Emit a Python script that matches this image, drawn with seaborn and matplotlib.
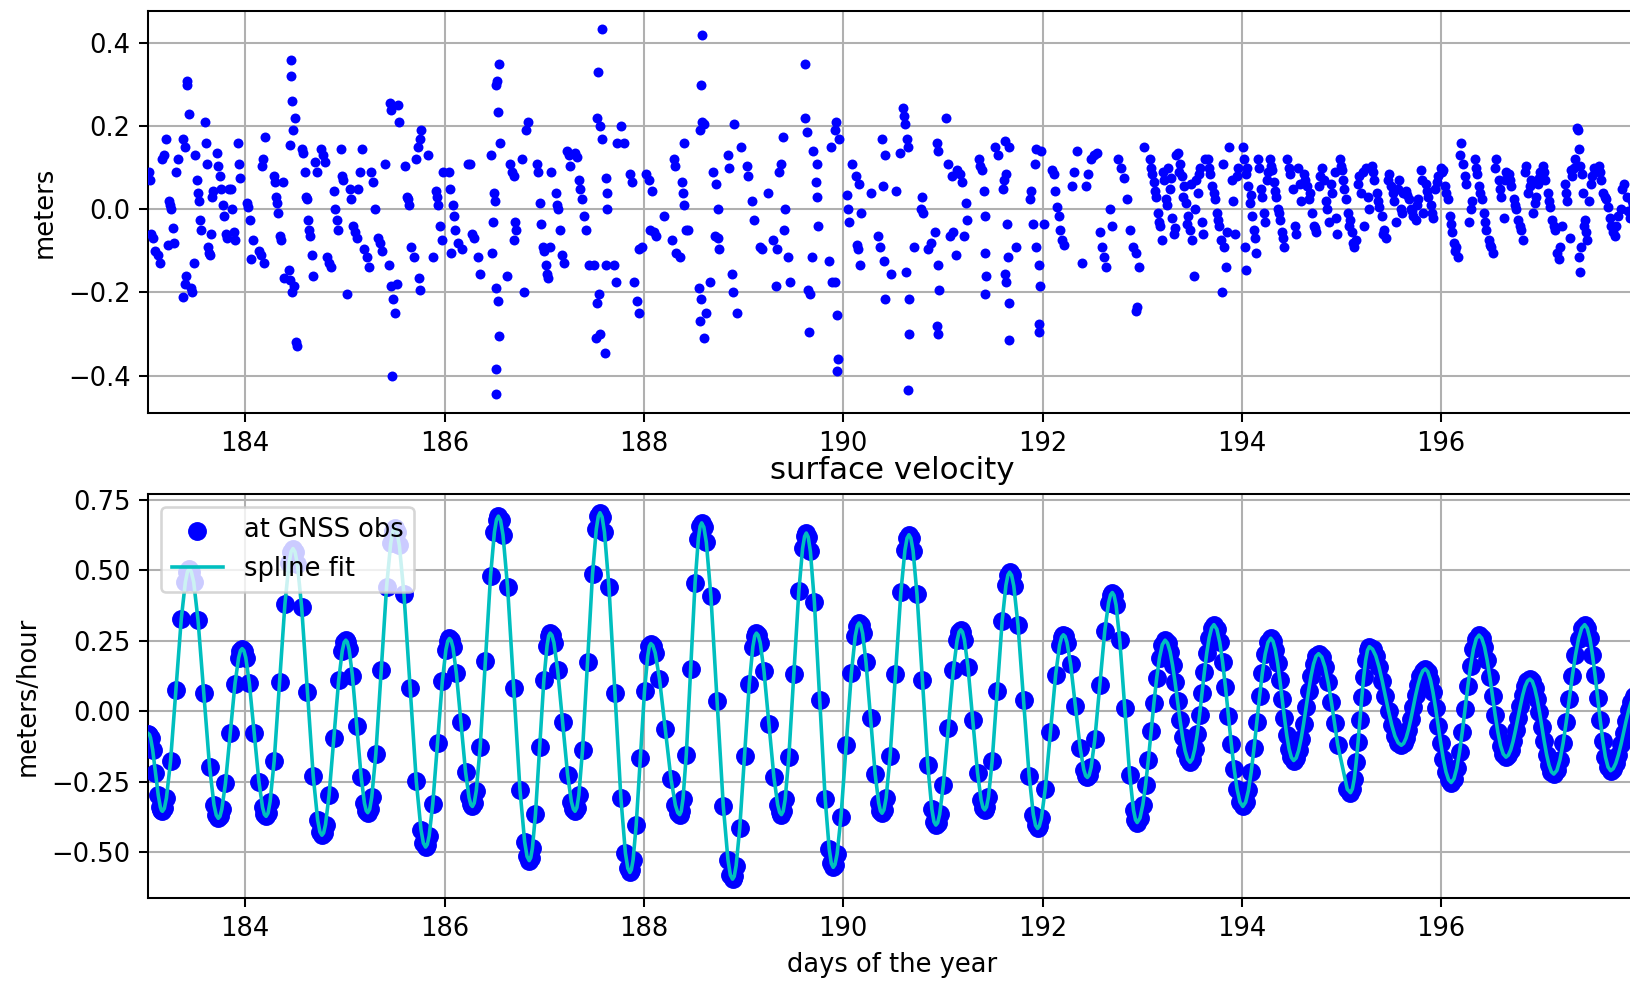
import matplotlib
matplotlib.use("Agg")
import matplotlib.pyplot as plt
import seaborn as sns

# ---------------------------------------------------------------------------
# Position residuals after removing the fitted tidal signal (meters)
# ---------------------------------------------------------------------------
resid_days = [
    183.04, 183.05, 183.06, 183.08, 183.10,
    183.13, 183.15, 183.17, 183.19, 183.21,
    183.23, 183.24, 183.25, 183.26, 183.28, 183.29, 183.31, 183.33,
    183.38, 183.40, 183.41, 183.38, 183.40, 183.42, 183.42, 183.44,
    183.46, 183.47, 183.49, 183.50, 183.52, 183.53, 183.54, 183.55, 183.56,
    183.60, 183.61, 183.62, 183.63, 183.64, 183.65, 183.66, 183.67, 183.68,
    183.72, 183.73, 183.75, 183.76, 183.78, 183.79, 183.81, 183.82, 183.84,
    183.86, 183.87, 183.89, 183.90, 183.93, 183.94, 183.95,
    184.02, 184.03, 184.05, 184.06, 184.08,
    184.20, 184.18, 184.17, 184.14, 184.16, 184.19,
    184.29, 184.30, 184.31, 184.32, 184.33, 184.35, 184.36, 184.39, 184.38,
    184.46, 184.46, 184.47, 184.48, 184.45, 184.50, 184.44, 184.45, 184.47, 184.49, 184.51, 184.52,
    184.57, 184.58, 184.60, 184.61, 184.62, 184.63, 184.64, 184.65, 184.67, 184.68, 184.70, 184.72,
    184.76, 184.78, 184.80, 184.82, 184.84, 184.86,
    184.89, 184.90, 184.92, 184.93, 184.96, 184.97, 184.98, 185.02,
    185.05, 185.06, 185.08, 185.10, 185.12, 185.13, 185.15, 185.17, 185.19,
    185.22, 185.24, 185.26, 185.28, 185.30, 185.33, 185.35, 185.37,
    185.40, 185.45, 185.46, 185.46, 185.48, 185.50, 185.47, 185.44, 185.53, 185.54, 185.52,
    185.60, 185.62, 185.63, 185.64, 185.66, 185.69, 185.71, 185.73, 185.75, 185.76, 185.74, 185.75,
    185.83, 185.91, 185.92, 185.93, 185.95, 185.97, 185.88, 185.98,
    186.05, 186.06, 186.09, 186.10, 186.11, 186.14, 186.07, 186.18,
    186.24, 186.26, 186.28, 186.30, 186.34, 186.36,
    186.55, 186.53, 186.52, 186.54, 186.56, 186.47, 186.50, 186.51, 186.49, 186.48, 186.52, 186.54, 186.55, 186.52, 186.52,
    186.66, 186.68, 186.70, 186.71, 186.72, 186.70, 186.63, 186.80, 186.84, 186.82, 186.78,
    186.93, 186.94, 186.96, 186.97, 186.99, 187.00, 187.02, 187.03, 187.04, 187.07, 187.06,
    187.12, 187.13, 187.14, 187.16, 187.18, 187.20, 187.23, 187.25, 187.26,
    187.31, 187.33, 187.35, 187.36, 187.38, 187.40, 187.42, 187.45,
    187.58, 187.54, 187.53, 187.56, 187.58, 187.62, 187.63, 187.63, 187.50, 187.55, 187.53, 187.52, 187.56, 187.61, 187.62,
    187.77, 187.73, 187.80, 187.86, 187.88, 187.70, 187.72, 187.90, 187.93, 187.95, 187.95,
    188.02, 188.05, 188.08, 188.06, 188.10, 188.12, 187.98, 188.20,
    188.30, 188.31, 188.38, 188.39, 188.40, 188.42, 188.28, 188.32, 188.36, 188.40, 188.44,
    188.58, 188.57, 188.58, 188.56, 188.60, 188.55, 188.57, 188.56, 188.60, 188.62, 188.66,
    188.69, 188.72, 188.74, 188.71, 188.74, 188.75, 188.88, 188.89, 188.93, 188.84, 188.85, 188.90, 188.97,
    189.04, 189.05, 189.09, 189.11, 189.17, 189.19, 189.25,
    189.40, 189.38, 189.36, 189.42, 189.41, 189.30, 189.34, 189.45, 189.33, 189.47,
    189.62, 189.62, 189.64, 189.70, 189.74, 189.73, 189.74, 189.75, 189.69, 189.65, 189.67, 189.66,
    189.93, 189.92, 189.96, 189.88, 189.86, 189.89, 189.92, 189.94, 189.95, 189.94, 190.04, 190.05, 190.06,
    190.09, 190.13, 190.16, 190.18, 190.14, 190.15, 190.17, 190.28,
    190.39, 190.42, 190.40, 190.53, 190.35, 190.37, 190.41, 190.48, 190.42, 190.57,
    190.60, 190.61, 190.62, 190.64, 190.65, 190.79, 190.78, 190.80, 190.71, 190.63, 190.66, 190.66, 190.65,
    191.03, 190.94, 190.95, 191.05, 191.09, 190.92, 190.88, 190.85, 190.95, 190.96, 190.94, 190.95, 191.07,
    191.14, 191.17, 191.19, 191.23, 191.24, 191.21, 191.13, 191.10,
    191.36, 191.37, 191.39, 191.41, 191.42, 191.42, 191.43, 191.42, 191.52, 191.55,
    191.62, 191.66, 191.63, 191.61, 191.60, 191.64, 191.65, 191.62, 191.63, 191.66, 191.66, 191.73,
    191.93, 191.98, 191.92, 191.88, 191.87, 191.90, 191.93, 191.96, 191.97, 191.96, 191.96, 192.02,
    192.10, 192.12, 192.13, 192.15, 192.17, 192.18, 192.20, 192.22, 192.30, 192.32, 192.35, 192.40,
    192.44, 192.46, 192.49, 192.52, 192.55, 192.58, 192.60, 192.62, 192.64, 192.68, 192.70,
    192.76, 192.79, 192.82, 192.85, 192.88, 192.91, 192.94, 192.97, 192.95, 192.94, 193.02,
    193.08, 193.10, 193.12, 193.14, 193.16, 193.18, 193.20, 193.22, 193.24, 193.26, 193.28, 193.30, 193.32, 193.34,
    193.09, 193.13, 193.17, 193.21, 193.25, 193.29, 193.33,
    193.36, 193.38, 193.40, 193.42, 193.44, 193.46, 193.48, 193.50, 193.52, 193.54, 193.56, 193.58, 193.60, 193.63,
    193.37, 193.41, 193.45, 193.49, 193.53, 193.57, 193.61,
    193.66, 193.68, 193.70, 193.73, 193.75, 193.77, 193.79, 193.82, 193.84, 193.80, 193.87, 193.90, 193.93, 193.96,
    193.67, 193.72, 193.76, 193.81, 193.85, 193.91, 193.95,
    194.01, 194.02, 194.04, 194.06, 194.08, 194.10, 194.12, 194.03, 194.04, 194.14, 194.17, 194.20, 194.23, 194.25,
    194.05, 194.09, 194.13, 194.16, 194.19, 194.22, 194.26,
    194.28, 194.30, 194.32, 194.34, 194.36, 194.38, 194.40, 194.42, 194.45, 194.48, 194.51, 194.54, 194.56, 194.59,
    194.29, 194.33, 194.37, 194.41, 194.47, 194.53, 194.58,
    194.62, 194.65, 194.67, 194.70, 194.72, 194.74, 194.77, 194.80, 194.82, 194.85, 194.87, 194.90, 194.93, 194.95,
    194.63, 194.68, 194.73, 194.78, 194.84, 194.89, 194.94,
    194.98, 195.00, 195.02, 195.05, 195.07, 195.09, 195.11, 195.13, 195.15, 195.18, 195.20, 195.23, 195.25, 195.28,
    194.99, 195.03, 195.08, 195.12, 195.17, 195.22, 195.27,
    195.31, 195.33, 195.36, 195.38, 195.41, 195.43, 195.45, 195.48, 195.50, 195.53, 195.55, 195.58, 195.60, 195.62,
    195.32, 195.37, 195.42, 195.47, 195.52, 195.57, 195.61,
    195.65, 195.68, 195.70, 195.72, 195.75, 195.77, 195.80, 195.82, 195.85, 195.87, 195.90, 195.92, 195.94, 195.97,
    195.66, 195.71, 195.76, 195.81, 195.86, 195.91, 195.96,
    196.00, 196.02, 196.04, 196.07, 196.09, 196.11, 196.13, 196.15, 196.17, 196.20, 196.22, 196.25, 196.28, 196.31,
    196.01, 196.05, 196.10, 196.14, 196.19, 196.24, 196.30,
    196.34, 196.36, 196.38, 196.41, 196.43, 196.45, 196.48, 196.50, 196.52, 196.55, 196.58, 196.60, 196.63, 196.65,
    196.35, 196.39, 196.44, 196.49, 196.54, 196.59, 196.64,
    196.68, 196.70, 196.73, 196.75, 196.77, 196.80, 196.82, 196.85, 196.87, 196.90, 196.92, 196.95, 196.97, 196.99,
    196.69, 196.74, 196.79, 196.84, 196.89, 196.94, 196.98,
    197.02, 197.04, 197.07, 197.09, 197.11, 197.14, 197.16, 197.18, 197.21, 197.24, 197.26, 197.29, 197.31, 197.33,
    197.03, 197.08, 197.13, 197.19, 197.25, 197.30, 197.34,
    197.36, 197.37, 197.38, 197.39, 197.41, 197.42, 197.44, 197.45, 197.40, 197.38, 197.39, 197.50, 197.53,
    197.43, 197.46, 197.48, 197.51, 197.54,
    197.58, 197.60, 197.62, 197.65, 197.67, 197.70, 197.72, 197.74, 197.77, 197.80, 197.83, 197.86, 197.89, 197.92,
    197.59, 197.64, 197.69, 197.75, 197.81, 197.87, 197.91,
]
resid_m = [
    0.09, 0.07, -0.06, -0.07, -0.10,
    -0.11, -0.13, 0.12, 0.13, 0.17,
    -0.085, 0.02, 0.01, 0.0, -0.045, -0.08, 0.09, 0.12,
    -0.21, -0.18, -0.16, 0.17, 0.15, 0.31, 0.30, 0.23,
    -0.19, -0.20, -0.13, 0.13, 0.07, 0.04, 0.02, -0.025, -0.05,
    0.21, 0.16, 0.11, -0.09, -0.105, -0.11, -0.06, 0.03, 0.045,
    0.135, 0.105, 0.08, 0.05, 0.01, -0.015, -0.06, -0.07, 0.05,
    0.05, 0.0, -0.055, -0.075, 0.16, 0.11, 0.075,
    0.015, 0.005, -0.025, -0.12, -0.075,
    0.175, 0.12, 0.105, -0.10, -0.11, -0.13,
    0.08, 0.065, 0.03, 0.015, -0.01, -0.065, -0.075, -0.165, 0.065,
    0.36, 0.32, 0.26, 0.19, 0.155, 0.22, -0.145, -0.17, -0.20, -0.185, -0.32, -0.33,
    0.145, 0.135, 0.09, 0.03, 0.025, -0.025, -0.05, -0.065, -0.11, -0.16, 0.115, 0.09,
    0.145, 0.13, 0.115, -0.115, -0.13, -0.14,
    0.045, 0.0, -0.025, -0.05, 0.145, 0.08, 0.07, -0.205,
    0.05, 0.025, -0.04, -0.055, -0.07, 0.05, 0.09, 0.145, -0.095,
    -0.115, -0.14, 0.09, 0.065, 0.0, -0.07, -0.08, -0.10,
    0.11, 0.255, 0.24, -0.185, -0.215, -0.25, -0.40, -0.135, 0.25, 0.21, -0.18,
    0.105, 0.03, 0.025, 0.01, -0.09, -0.115, 0.12, 0.15, 0.17, 0.19, -0.165, -0.195,
    0.13, 0.045, 0.03, 0.01, -0.04, -0.075, -0.115, 0.09,
    0.09, 0.05, 0.01, -0.015, -0.05, -0.08, -0.105, -0.095,
    0.11, 0.11, -0.06, -0.07, -0.115, -0.155,
    0.35, 0.31, 0.30, 0.235, 0.16, 0.13, 0.04, 0.02, -0.03, -0.105, -0.19, -0.22, -0.305, -0.385, -0.445,
    0.11, 0.09, 0.08, -0.03, -0.05, -0.075, -0.16, -0.20, 0.21, 0.19, 0.12,
    0.11, 0.09, 0.015, -0.035, -0.09, -0.10, -0.135, -0.155, -0.165, 0.09, -0.09,
    0.04, 0.01, 0.0, -0.05, -0.11, -0.13, 0.14, 0.13, 0.105,
    0.135, 0.125, 0.07, 0.05, 0.025, -0.015, -0.05, -0.135,
    0.435, 0.33, 0.22, 0.20, 0.17, 0.075, 0.04, 0.0, -0.135, -0.205, -0.225, -0.31, -0.30, -0.345, -0.135,
    0.20, 0.16, 0.16, 0.085, 0.065, -0.135, -0.175, -0.175, -0.22, -0.25, -0.095,
    0.085, 0.07, 0.045, -0.05, -0.055, -0.065, -0.09, -0.015,
    0.12, 0.105, 0.065, 0.04, 0.01, -0.05, -0.075, -0.105, -0.115, 0.16, -0.05,
    0.42, 0.30, 0.21, 0.19, 0.205, -0.19, -0.215, -0.27, -0.31, -0.25, -0.175,
    0.09, 0.06, 0.0, -0.065, -0.07, -0.095, -0.155, -0.20, -0.25, 0.13, 0.10, 0.205, 0.15,
    0.105, 0.08, 0.02, -0.025, -0.09, -0.095, 0.04,
    0.175, 0.11, 0.09, 0.0, -0.05, -0.075, -0.095, -0.115, -0.185, -0.175,
    0.35, 0.22, 0.185, 0.14, 0.11, 0.065, 0.03, -0.04, -0.115, -0.195, -0.205, -0.295,
    0.21, 0.19, 0.17, 0.15, -0.125, -0.175, -0.175, -0.255, -0.36, -0.39, 0.035, 0.0, -0.03,
    0.11, 0.08, 0.06, -0.01, -0.085, -0.095, -0.135, 0.04,
    0.17, 0.13, 0.055, 0.045, -0.065, -0.09, -0.125, -0.155, -0.215, 0.135,
    0.245, 0.225, 0.205, 0.17, 0.15, 0.03, 0.0, -0.01, -0.09, -0.15, -0.215, -0.30, -0.435,
    0.22, 0.16, 0.14, 0.11, 0.08, -0.055, -0.08, -0.095, -0.135, -0.195, -0.28, -0.30, -0.065,
    0.095, 0.085, 0.065, 0.015, -0.025, -0.065, -0.11, -0.055,
    0.12, 0.105, 0.095, 0.045, -0.015, -0.105, -0.16, -0.205, 0.15, 0.13,
    0.165, 0.15, 0.085, 0.07, 0.05, -0.035, -0.115, -0.155, -0.175, -0.225, -0.315, -0.09,
    0.145, 0.14, 0.11, 0.045, 0.025, -0.035, -0.09, -0.135, -0.185, -0.275, -0.295, -0.035,
    0.095, 0.085, 0.045, 0.005, -0.015, -0.05, -0.075, -0.085, 0.055, 0.09, 0.14, -0.13,
    0.055, 0.085, 0.12, 0.13, 0.135, -0.055, -0.09, -0.115, -0.14, 0.0, -0.04,
    0.12, 0.10, 0.075, 0.025, -0.05, -0.09, -0.105, -0.14, -0.235, -0.245, 0.15,
    0.12, 0.085, 0.065, 0.03, -0.01, -0.04, -0.075, 0.07, 0.025, 0.10, 0.05, -0.02, -0.06, 0.13,
    0.10, 0.045, -0.03, 0.09, 0.01, 0.075, -0.045,
    0.135, 0.11, 0.08, 0.055, 0.015, -0.015, -0.05, -0.075, -0.16, 0.07, 0.04, 0.10, -0.03, 0.12,
    0.09, 0.03, -0.035, 0.06, 0.0, 0.085, -0.06,
    0.12, 0.085, 0.055, 0.025, -0.01, -0.04, -0.075, -0.09, -0.14, -0.20, 0.15, 0.07, -0.06, 0.10,
    0.10, 0.04, -0.025, 0.11, -0.055, 0.02, 0.08,
    0.15, 0.12, 0.085, 0.055, 0.015, -0.015, -0.05, -0.09, -0.145, -0.105, 0.10, 0.03, -0.03, 0.07,
    0.10, 0.035, -0.07, 0.12, 0.05, -0.01, 0.09,
    0.12, 0.095, 0.065, 0.03, 0.0, -0.025, -0.055, -0.09, 0.12, 0.085, 0.05, -0.06, 0.10, 0.02,
    0.105, 0.045, -0.01, -0.07, 0.10, -0.04, 0.06,
    0.085, 0.055, 0.025, -0.01, -0.04, -0.055, 0.055, 0.10, 0.07, 0.0, -0.03, 0.04, 0.09, -0.06,
    0.07, 0.04, -0.045, 0.08, 0.02, 0.06, -0.02,
    0.12, 0.095, 0.07, 0.025, -0.01, -0.025, -0.055, -0.09, -0.075, 0.08, 0.04, -0.04, 0.10, 0.0,
    0.105, 0.05, -0.04, -0.08, 0.06, 0.09, 0.03,
    0.105, 0.07, 0.04, 0.005, -0.015, -0.05, -0.07, 0.085, 0.055, 0.02, -0.03, 0.07, 0.0, 0.04,
    0.09, 0.02, -0.06, 0.07, 0.04, 0.05, -0.01,
    0.045, 0.025, 0.0, -0.015, -0.025, 0.025, 0.095, -0.01, 0.06, 0.03, 0.01, -0.02, 0.05, 0.08,
    0.035, -0.005, 0.01, 0.07, 0.045, -0.01, 0.065,
    0.10, 0.095, 0.055, 0.025, -0.015, -0.055, -0.08, -0.09, -0.115, 0.16, 0.11, 0.06, -0.03, 0.02,
    0.09, 0.04, -0.035, -0.10, 0.13, 0.08, 0.0,
    0.12, 0.085, 0.055, 0.025, -0.01, -0.05, -0.075, -0.09, -0.105, 0.12, 0.07, 0.03, -0.02, 0.09,
    0.10, 0.04, -0.03, -0.085, 0.10, 0.05, 0.07,
    0.085, 0.055, 0.025, 0.0, -0.025, -0.05, -0.075, 0.105, 0.04, 0.07, -0.01, 0.03, 0.06, 0.09,
    0.07, 0.01, -0.04, 0.09, 0.055, 0.015, 0.075,
    0.105, 0.07, 0.04, 0.005, -0.025, -0.05, -0.105, -0.12, -0.04, 0.06, 0.02, -0.07, 0.08, 0.10,
    0.09, 0.02, -0.04, -0.09, 0.04, 0.095, 0.12,
    0.195, 0.19, 0.145, 0.105, 0.085, 0.04, -0.025, -0.055, -0.09, -0.115, -0.15, 0.06, 0.10,
    -0.04, -0.075, 0.02, 0.08, 0.09,
    0.105, 0.07, 0.04, 0.025, 0.005, -0.04, -0.055, -0.065, -0.015, 0.0, 0.06, 0.03, -0.02, 0.01,
    0.09, 0.03, -0.02, -0.04, 0.05, -0.005, 0.02,
]

# ---------------------------------------------------------------------------
# Spline-fitted surface velocity at the GNSS observation epochs (m/h)
# ---------------------------------------------------------------------------
obs_days = [
    183.030, 183.040, 183.051, 183.072, 183.100, 183.128, 183.149, 183.160,
    183.170, 183.189, 183.210, 183.251, 183.305, 183.359, 183.400, 183.421,
    183.440, 183.460, 183.484, 183.527, 183.585, 183.643, 183.687, 183.710,
    183.730, 183.747, 183.766, 183.802, 183.850, 183.898, 183.934, 183.953,
    183.970, 183.987, 184.006, 184.042, 184.090, 184.138, 184.174, 184.193,
    184.210, 184.229, 184.250, 184.291, 184.345, 184.399, 184.440, 184.461,
    184.480, 184.500, 184.524, 184.567, 184.625, 184.683, 184.727, 184.750,
    184.770, 184.787, 184.806, 184.842, 184.890, 184.938, 184.974, 184.993,
    185.010, 185.025, 185.043, 185.076, 185.120, 185.164, 185.197, 185.215,
    185.230, 185.249, 185.270, 185.311, 185.365, 185.419, 185.460, 185.481,
    185.500, 185.522, 185.547, 185.593, 185.655, 185.717, 185.764, 185.788,
    185.810, 185.827, 185.846, 185.882, 185.930, 185.978, 186.014, 186.033,
    186.050, 186.066, 186.085, 186.119, 186.165, 186.211, 186.246, 186.264,
    186.280, 186.298, 186.319, 186.358, 186.410, 186.462, 186.501, 186.522,
    186.540, 186.562, 186.587, 186.633, 186.695, 186.757, 186.804, 186.828,
    186.850, 186.865, 186.882, 186.913, 186.955, 186.997, 187.029, 187.045,
    187.060, 187.078, 187.098, 187.135, 187.185, 187.235, 187.273, 187.293,
    187.310, 187.328, 187.348, 187.385, 187.435, 187.485, 187.523, 187.543,
    187.560, 187.581, 187.605, 187.650, 187.710, 187.770, 187.815, 187.839,
    187.860, 187.875, 187.892, 187.923, 187.965, 188.007, 188.039, 188.055,
    188.070, 188.090, 188.114, 188.157, 188.215, 188.273, 188.317, 188.340,
    188.360, 188.375, 188.393, 188.426, 188.470, 188.514, 188.547, 188.565,
    188.580, 188.602, 188.627, 188.673, 188.735, 188.797, 188.844, 188.868,
    188.890, 188.907, 188.926, 188.962, 189.010, 189.058, 189.094, 189.113,
    189.130, 189.148, 189.168, 189.205, 189.255, 189.305, 189.343, 189.363,
    189.380, 189.398, 189.418, 189.455, 189.505, 189.555, 189.593, 189.613,
    189.630, 189.649, 189.671, 189.711, 189.765, 189.819, 189.860, 189.881,
    189.900, 189.918, 189.939, 189.978, 190.030, 190.082, 190.121, 190.142,
    190.160, 190.176, 190.195, 190.229, 190.275, 190.321, 190.356, 190.374,
    190.390, 190.409, 190.431, 190.471, 190.525, 190.579, 190.620, 190.641,
    190.660, 190.679, 190.701, 190.741, 190.795, 190.849, 190.890, 190.911,
    190.930, 190.948, 190.968, 191.005, 191.055, 191.105, 191.143, 191.163,
    191.180, 191.197, 191.216, 191.252, 191.300, 191.348, 191.384, 191.403,
    191.420, 191.438, 191.458, 191.495, 191.545, 191.595, 191.633, 191.653,
    191.670, 191.690, 191.712, 191.754, 191.810, 191.866, 191.908, 191.930,
    191.950, 191.968, 191.989, 192.028, 192.080, 192.132, 192.171, 192.192,
    192.210, 192.227, 192.246, 192.282, 192.330, 192.378, 192.414, 192.433,
    192.450, 192.468, 192.488, 192.525, 192.575, 192.625, 192.663, 192.683,
    192.700, 192.718, 192.738, 192.775, 192.825, 192.875, 192.913, 192.933,
    192.950, 192.978, 193.006, 193.034, 193.062, 193.090, 193.118, 193.146, 193.174, 193.202,
    193.230, 193.255, 193.280, 193.305, 193.330, 193.355, 193.380, 193.405, 193.430, 193.455,
    193.480, 193.504, 193.528, 193.552, 193.576, 193.600, 193.624, 193.648, 193.672, 193.696,
    193.720, 193.749, 193.778, 193.807, 193.836, 193.865, 193.894, 193.923, 193.952, 193.981,
    194.010, 194.038, 194.066, 194.094, 194.122, 194.150, 194.178, 194.206, 194.234, 194.262,
    194.290, 194.313, 194.336, 194.359, 194.382, 194.405, 194.428, 194.451, 194.474, 194.497,
    194.520, 194.545, 194.570, 194.595, 194.620, 194.645, 194.670, 194.695, 194.720, 194.745,
    194.770, 194.802, 194.834, 194.866, 194.898, 194.930, 194.962, 195.058,
    195.090, 195.109, 195.128, 195.147, 195.166, 195.185, 195.204, 195.223, 195.242, 195.261,
    195.280, 195.312, 195.344, 195.376, 195.408, 195.440, 195.472, 195.504, 195.536, 195.568,
    195.600, 195.624, 195.648, 195.672, 195.696, 195.720, 195.744, 195.768, 195.792, 195.816,
    195.840, 195.866, 195.892, 195.918, 195.944, 195.970, 195.996, 196.022, 196.048, 196.074,
    196.100, 196.128, 196.156, 196.184, 196.212, 196.240, 196.268, 196.296, 196.324, 196.352,
    196.380, 196.407, 196.434, 196.461, 196.488, 196.515, 196.542, 196.569, 196.596, 196.623,
    196.650, 196.674, 196.698, 196.722, 196.746, 196.770, 196.794, 196.818, 196.842, 196.866,
    196.890, 196.914, 196.938, 196.962, 196.986, 197.010, 197.034, 197.058, 197.082, 197.106,
    197.130, 197.161, 197.192, 197.223, 197.254, 197.285, 197.316, 197.347, 197.378, 197.409,
    197.440, 197.466, 197.492, 197.518, 197.544, 197.570, 197.596, 197.622, 197.648, 197.674,
    197.700, 197.726, 197.752, 197.778, 197.804, 197.830, 197.856, 197.882, 197.908, 197.934, 197.960,
]
obs_vel = [
    -0.080, -0.083, -0.095, -0.137, -0.218, -0.298, -0.340, -0.352,
    -0.355, -0.345, -0.308, -0.178, 0.075, 0.328, 0.458, 0.495,
    0.505, 0.494, 0.457, 0.323, 0.063, -0.198, -0.332, -0.369,
    -0.380, -0.373, -0.347, -0.256, -0.079, 0.098, 0.189, 0.215,
    0.222, 0.215, 0.190, 0.099, -0.076, -0.250, -0.341, -0.366,
    -0.373, -0.362, -0.321, -0.177, 0.102, 0.381, 0.525, 0.566,
    0.577, 0.565, 0.522, 0.368, 0.069, -0.231, -0.385, -0.428,
    -0.440, -0.432, -0.402, -0.297, -0.094, 0.109, 0.214, 0.244,
    0.252, 0.245, 0.219, 0.126, -0.054, -0.234, -0.327, -0.353,
    -0.360, -0.348, -0.305, -0.152, 0.145, 0.442, 0.595, 0.638,
    0.650, 0.636, 0.588, 0.417, 0.084, -0.249, -0.420, -0.468,
    -0.482, -0.473, -0.442, -0.330, -0.112, 0.106, 0.218, 0.249,
    0.258, 0.251, 0.226, 0.135, -0.040, -0.215, -0.306, -0.331,
    -0.338, -0.326, -0.282, -0.126, 0.177, 0.480, 0.636, 0.680,
    0.692, 0.677, 0.625, 0.440, 0.081, -0.278, -0.463, -0.515,
    -0.530, -0.520, -0.486, -0.364, -0.127, 0.111, 0.233, 0.267,
    0.277, 0.269, 0.243, 0.147, -0.039, -0.225, -0.321, -0.347,
    -0.355, -0.342, -0.297, -0.137, 0.175, 0.486, 0.646, 0.691,
    0.704, 0.689, 0.635, 0.441, 0.066, -0.309, -0.503, -0.557,
    -0.572, -0.562, -0.528, -0.405, -0.166, 0.073, 0.196, 0.230,
    0.240, 0.233, 0.207, 0.115, -0.064, -0.242, -0.334, -0.360,
    -0.367, -0.355, -0.311, -0.154, 0.151, 0.455, 0.612, 0.656,
    0.668, 0.653, 0.599, 0.408, 0.036, -0.336, -0.527, -0.581,
    -0.596, -0.586, -0.548, -0.416, -0.160, 0.097, 0.229, 0.267,
    0.277, 0.269, 0.242, 0.144, -0.045, -0.234, -0.332, -0.359,
    -0.367, -0.355, -0.313, -0.161, 0.133, 0.426, 0.578, 0.620,
    0.632, 0.618, 0.567, 0.388, 0.039, -0.310, -0.489, -0.540,
    -0.554, -0.544, -0.507, -0.375, -0.121, 0.134, 0.266, 0.303,
    0.313, 0.305, 0.276, 0.174, -0.025, -0.223, -0.325, -0.354,
    -0.362, -0.350, -0.308, -0.159, 0.132, 0.423, 0.572, 0.614,
    0.626, 0.614, 0.570, 0.414, 0.111, -0.192, -0.348, -0.392,
    -0.404, -0.396, -0.366, -0.261, -0.058, 0.146, 0.251, 0.281,
    0.289, 0.281, 0.254, 0.157, -0.031, -0.218, -0.315, -0.342,
    -0.350, -0.340, -0.304, -0.176, 0.072, 0.319, 0.447, 0.483,
    0.493, 0.482, 0.444, 0.306, 0.039, -0.229, -0.367, -0.405,
    -0.416, -0.408, -0.379, -0.275, -0.073, 0.130, 0.234, 0.263,
    0.271, 0.265, 0.243, 0.167, 0.018, -0.131, -0.207, -0.229,
    -0.235, -0.227, -0.199, -0.100, 0.093, 0.286, 0.385, 0.413,
    0.421, 0.411, 0.377, 0.253, 0.013, -0.227, -0.351, -0.385,
    -0.395, -0.379, -0.333, -0.262, -0.172, -0.072, 0.029, 0.119, 0.190, 0.236,
    0.252, 0.241, 0.211, 0.163, 0.103, 0.036, -0.032, -0.092, -0.140, -0.170,
    -0.181, -0.169, -0.134, -0.081, -0.013, 0.063, 0.139, 0.207, 0.260, 0.295,
    0.307, 0.291, 0.245, 0.174, 0.085, -0.016, -0.116, -0.205, -0.276, -0.322,
    -0.338, -0.323, -0.281, -0.215, -0.132, -0.040, 0.053, 0.136, 0.202, 0.244,
    0.259, 0.248, 0.218, 0.170, 0.109, 0.042, -0.025, -0.086, -0.134, -0.164,
    -0.175, -0.166, -0.139, -0.097, -0.044, 0.015, 0.073, 0.126, 0.168, 0.195,
    0.204, 0.192, 0.157, 0.102, 0.034, -0.043, -0.119, -0.277,
    -0.289, -0.276, -0.240, -0.182, -0.110, -0.030, 0.050, 0.122, 0.180, 0.216,
    0.229, 0.220, 0.196, 0.157, 0.108, 0.054, 0.000, -0.049, -0.088, -0.112,
    -0.121, -0.114, -0.095, -0.065, -0.028, 0.015, 0.057, 0.094, 0.124, 0.143,
    0.150, 0.140, 0.112, 0.067, 0.011, -0.052, -0.114, -0.170, -0.215, -0.243,
    -0.253, -0.240, -0.203, -0.145, -0.073, 0.009, 0.090, 0.162, 0.220, 0.257,
    0.270, 0.259, 0.229, 0.181, 0.121, 0.054, -0.014, -0.074, -0.122, -0.152,
    -0.163, -0.156, -0.137, -0.106, -0.067, -0.025, 0.018, 0.057, 0.088, 0.107,
    0.114, 0.106, 0.082, 0.045, -0.002, -0.055, -0.107, -0.154, -0.191, -0.215,
    -0.223, -0.210, -0.172, -0.114, -0.040, 0.042, 0.124, 0.198, 0.256, 0.294,
    0.307, 0.294, 0.258, 0.200, 0.128, 0.048, -0.032, -0.104, -0.162, -0.198,
    -0.211, -0.204, -0.185, -0.155, -0.118, -0.076, -0.034, 0.004, 0.034, 0.053, 0.060,
]

assert len(resid_days) == len(resid_m)
assert len(obs_days) == len(obs_vel)

DAY_RANGE = (183.03, 197.96)

DPI = 185
fig = plt.figure(figsize=(1630 / DPI, 982 / DPI), dpi=DPI)
ax_top = fig.add_axes([0.0911, 0.5791, 0.9129, 0.4100])
ax_bot = fig.add_axes([0.0911, 0.0856, 0.9129, 0.4112])

# --- residuals -------------------------------------------------------------
sns.scatterplot(x=resid_days, y=resid_m, ax=ax_top, color="blue",
                s=15, linewidth=0, zorder=3)
ax_top.set_xlim(*DAY_RANGE)
ax_top.set_ylim(-0.491, 0.478)
ax_top.set_yticks([-0.4, -0.2, 0.0, 0.2, 0.4])
ax_top.grid(True)
ax_top.set_ylabel("meters")
ax_top.set_xlabel("")

# --- surface velocity ------------------------------------------------------
sns.scatterplot(x=obs_days, y=obs_vel, ax=ax_bot, color="blue",
                s=54, linewidth=0, zorder=3, label="at GNSS obs")
sns.lineplot(x=obs_days, y=obs_vel, ax=ax_bot, color="c",
             linewidth=1.4, zorder=4, estimator=None, sort=False,
             label="spline fit")
ax_bot.set_xlim(*DAY_RANGE)
ax_bot.set_ylim(-0.6625, 0.770)
ax_bot.set_yticks([-0.5, -0.25, 0.0, 0.25, 0.5, 0.75])
ax_bot.grid(True)
ax_bot.set_title("surface velocity")
ax_bot.set_xlabel("days of the year")
ax_bot.set_ylabel("meters/hour")
ax_bot.legend(loc="upper left")

fig.savefig("out.png", dpi=DPI)
